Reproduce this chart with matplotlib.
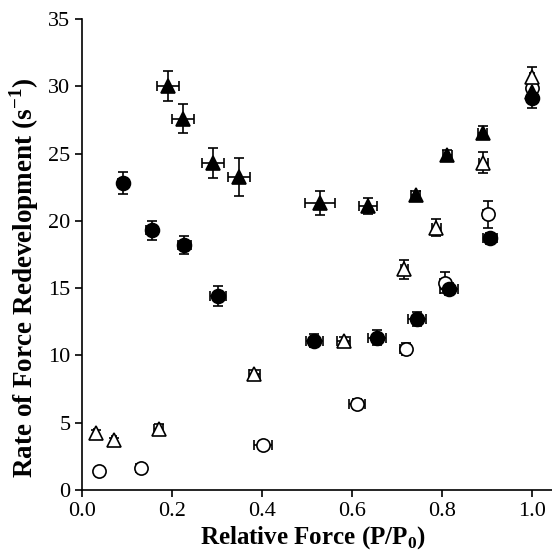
import matplotlib
matplotlib.use("Agg")
import matplotlib.pyplot as plt

# filled circles
fc_x = [0.090, 0.154, 0.227, 0.302, 0.516, 0.656, 0.743, 0.815, 0.906, 0.999]
fc_y = [22.8, 19.3, 18.2, 14.4, 11.1, 11.3, 12.7, 14.9, 18.7, 29.15]
fc_xerr = [0.010, 0.012, 0.015, 0.018, 0.018, 0.020, 0.020, 0.020, 0.015, 0.005]
fc_yerr = [0.8, 0.7, 0.7, 0.75, 0.45, 0.55, 0.5, 0.45, 0.4, 0.8]

# open circles
oc_x = [0.038, 0.130, 0.402, 0.611, 0.719, 0.806, 0.901, 1.000]
oc_y = [1.43, 1.6, 3.34, 6.38, 10.5, 15.4, 20.5, 29.9]
oc_xerr = [0.005, 0.010, 0.020, 0.018, 0.012, 0.010, 0.010, 0.005]
oc_yerr = [0.1, 0.2, 0.3, 0.35, 0.45, 0.8, 1.0, 0.6]

# filled triangles
ft_x = [0.190, 0.224, 0.291, 0.348, 0.528, 0.636, 0.741, 0.811, 0.890, 1.000]
ft_y = [30.0, 27.6, 24.3, 23.26, 21.3, 21.1, 21.95, 24.87, 26.55, 29.6]
ft_xerr = [0.024, 0.025, 0.025, 0.025, 0.033, 0.020, 0.010, 0.010, 0.010, 0.005]
ft_yerr = [1.1, 1.1, 1.1, 1.4, 0.9, 0.6, 0.3, 0.4, 0.5, 0.8]

# open triangles
ot_x = [0.030, 0.071, 0.170, 0.382, 0.581, 0.716, 0.787, 0.891, 1.000]
ot_y = [4.26, 3.69, 4.53, 8.59, 11.08, 16.4, 19.5, 24.33, 30.7]
ot_xerr = [0.003, 0.005, 0.010, 0.012, 0.015, 0.008, 0.010, 0.010, 0.005]
ot_yerr = [0.2, 0.2, 0.4, 0.3, 0.3, 0.7, 0.6, 0.75, 0.7]

plt.rcParams['font.family'] = ['Liberation Serif', 'DejaVu Serif']

fig = plt.figure(figsize=(5.52, 5.51), dpi=100)
ax = fig.add_axes([0.149, 0.111, 0.851, 0.8545])

common = dict(ls='none', ecolor='black', elinewidth=1.2, capsize=3.5,
              capthick=1.2, markeredgecolor='black', markeredgewidth=1.2)

ax.errorbar(oc_x, oc_y, xerr=oc_xerr, yerr=oc_yerr, fmt='o', ms=9.5,
            markerfacecolor='white', **common)
ax.errorbar(ot_x, ot_y, xerr=ot_xerr, yerr=ot_yerr, fmt='^', ms=10,
            markerfacecolor='white', **common)
ax.errorbar(ft_x, ft_y, xerr=ft_xerr, yerr=ft_yerr, fmt='^', ms=10,
            markerfacecolor='black', **common)
ax.errorbar(fc_x, fc_y, xerr=fc_xerr, yerr=fc_yerr, fmt='o', ms=10,
            markerfacecolor='black', **common)

ax.set_xlim(0, 1.044)
ax.set_ylim(0, 35)
ax.set_xticks([0.0, 0.2, 0.4, 0.6, 0.8, 1.0])
ax.set_xticklabels(['0.0', '0.2', '0.4', '0.6', '0.8', '1.0'])
ax.set_yticks(range(0, 36, 5))

for side in ['top', 'right']:
    ax.spines[side].set_visible(False)
for side in ['left', 'bottom']:
    ax.spines[side].set_linewidth(1.2)

ax.tick_params(direction='out', length=5, width=1.2, labelsize=16)

ax.set_xlabel('Relative Force (P/P$_\\mathregular{0}$)', fontsize=18,
              fontweight='bold')
ax.set_ylabel('Rate of Force Redevelopment (s$^\\mathregular{-1}$)',
              fontsize=19.5, fontweight='bold')
ax.xaxis.label.set_va('baseline')
ax.yaxis.label.set_va('center')
ax.xaxis.set_label_coords(0.49, -0.114)
ax.yaxis.set_label_coords(-0.124, 0.451)

fig.savefig('out.png', dpi=100, facecolor='white')
